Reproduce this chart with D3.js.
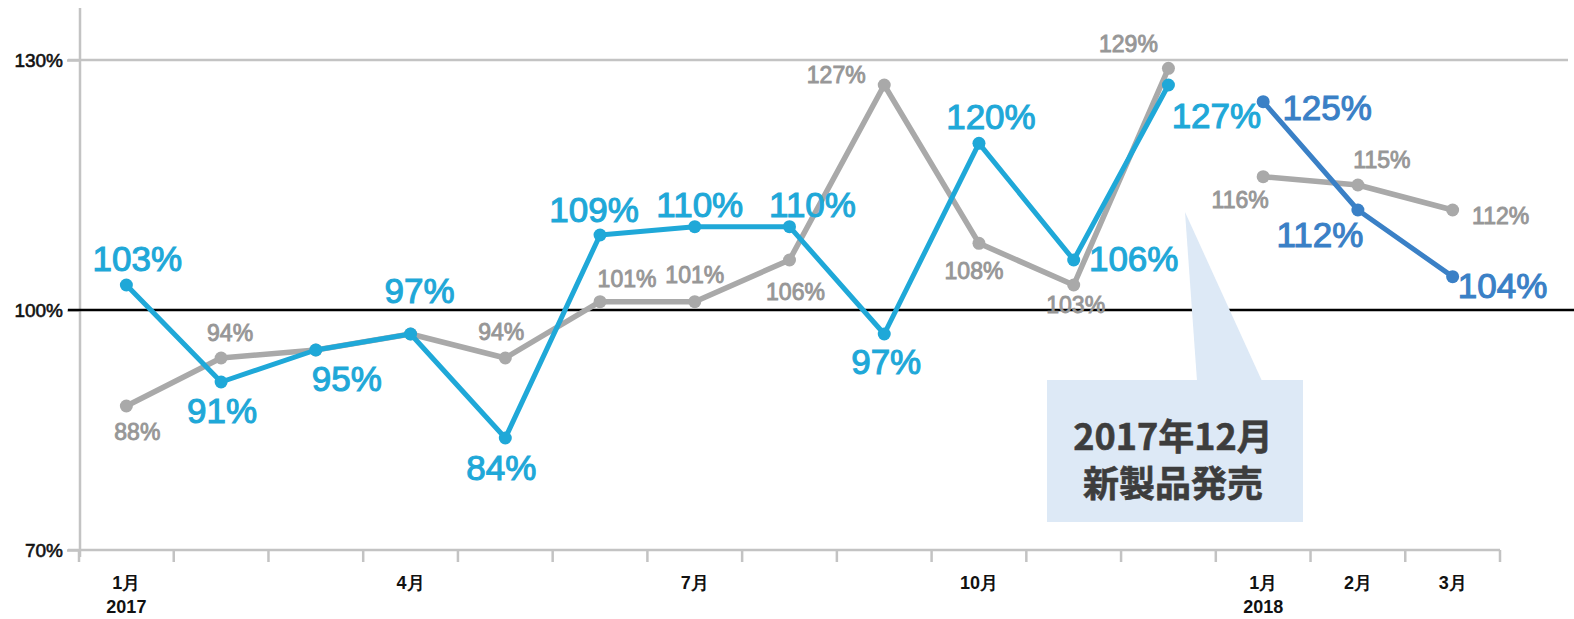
<!DOCTYPE html>
<html>
<head>
<meta charset="utf-8">
<script src="https://cdn.jsdelivr.net/npm/d3@7/dist/d3.min.js"></script>
<style>
  html, body { margin: 0; padding: 0; background: #fff; }
  svg { display: block; }
</style>
</head>
<body>
<svg id="chart" width="1574" height="619"></svg>
<script>
// Month categories: Jan 2017 through Mar 2018
const months = ["2017-01","2017-02","2017-03","2017-04","2017-05","2017-06",
                "2017-07","2017-08","2017-09","2017-10","2017-11","2017-12",
                "2018-01","2018-02","2018-03"];

// Previous-year ratio (grey) and current ratio (blue), in percent
const gray2017 = [88, 94, 95, 97, 94, 101, 101, 106, 127, 108, 103, 129];
const blue2017 = [103, 91, 95, 97, 84, 109, 110, 110, 97, 120, 106, 127];
const gray2018 = [116, 115, 112];
const blue2018 = [125, 112, 104];

// Which grey values carry a printed label
const gray2017Labeled = [true, true, false, false, true, true, true, true, true, true, true, true];

// Axis text
const yTicks = [70, 100, 130];
const monthLabels = {"2017-01": "1月", "2017-04": "4月", "2017-07": "7月", "2017-10": "10月",
                     "2018-01": "1月", "2018-02": "2月", "2018-03": "3月"};
const yearLabels = {"2017-01": "2017", "2018-01": "2018"};
const calloutLines = ["2017年12月", "新製品発売"];

// Label placement relative to each point (dx, dy)
const offGray2017 = [[11,26],[9,-25],null,null,[-4,-26],[27,-23],[0,-27],[6,32],[-48,-10],[-5,28],[2,20],[-40,-24]];
const offBlue2017 = [[11,-27],[1,28],[31,28],[9,-44],[-4,29],[-6,-26],[5,-22],[23,-22],[2,27],[12,-27],[60,-2],[48,30]];
const offGray2018 = [[-23,23],[24,-25],[48,6]];
const offBlue2018 = [[64,6],[-38,24],[50,9]];

const svg = d3.select("#chart");

const x = d3.scaleBand().domain(months).range([79, 1500]).paddingInner(0).paddingOuter(0);
const y = d3.scaleLinear().domain([70, 100, 130]).range([550, 310, 60]);
const cx = m => x(m) + x.bandwidth() / 2;

const C = {
  gray: "#a9a9a9", grayText: "#979797",
  blue: "#1fa8d8", blue2: "#3a80c6",
  axis: "#c3c3c3"
};
const FONT = "Liberation Sans, Arial, Helvetica, sans-serif";

// Gridline at the top value, baseline of the plot and the vertical axis
svg.append("line").attr("x1", 68).attr("x2", 1568).attr("y1", y(130)).attr("y2", y(130))
  .attr("stroke", C.axis).attr("stroke-width", 2.5);
svg.append("line").attr("x1", 68).attr("x2", 1500).attr("y1", y(70)).attr("y2", y(70))
  .attr("stroke", C.axis).attr("stroke-width", 2.5);
svg.append("line").attr("x1", 80).attr("x2", 80).attr("y1", 8).attr("y2", 557)
  .attr("stroke", C.axis).attr("stroke-width", 2.5);

// Y axis ticks and labels
const yAxis = d3.axisLeft(y).tickValues(yTicks).tickFormat(d => d + "%").tickSize(13).tickPadding(4);
const gy = svg.append("g").attr("transform", "translate(80,0)").call(yAxis);
gy.select(".domain").remove();
gy.selectAll(".tick line").attr("stroke", C.axis).attr("stroke-width", 2.5);
gy.selectAll(".tick text").attr("fill", "#111").attr("font-family", FONT)
  .attr("font-size", 19).attr("stroke", "#111").attr("stroke-width", 0.6);

// Reference line at 100%
svg.append("line").attr("x1", 68).attr("x2", 1574).attr("y1", y(100)).attr("y2", y(100))
  .attr("stroke", "#000").attr("stroke-width", 2.5);

// X axis: ticks at band edges
const edges = months.map(m => x(m)).concat([x(months[months.length - 1]) + x.bandwidth()]);
svg.append("g").selectAll("line").data(edges).join("line")
  .attr("x1", d => d).attr("x2", d => d)
  .attr("y1", y(70)).attr("y2", y(70) + 12)
  .attr("stroke", C.axis).attr("stroke-width", 2.5);

const xAxis = d3.axisBottom(x).tickValues(Object.keys(monthLabels))
  .tickFormat(d => monthLabels[d]).tickSize(0).tickPadding(0);
const gx = svg.append("g").attr("transform", `translate(0,${y(70)})`).call(xAxis);
gx.select(".domain").remove();
gx.selectAll(".tick text").attr("fill", "#111").attr("y", 39).attr("dy", null)
  .attr("font-family", FONT).attr("font-size", 18).attr("font-weight", "bold");
gx.selectAll(".tick").filter(d => yearLabels[d]).append("text")
  .attr("y", 63).attr("fill", "#111").attr("text-anchor", "middle")
  .attr("font-family", FONT).attr("font-size", 18).attr("font-weight", "bold")
  .text(d => yearLabels[d]);

// Callout box
const callout = svg.append("g");
callout.append("polygon")
  .attr("points", [[1185, 212], [1197, 381], [1262, 381]].map(p => p.join(",")).join(" "))
  .attr("fill", "#dde9f6");
callout.append("rect").attr("x", 1047).attr("y", 380).attr("width", 256).attr("height", 142)
  .attr("fill", "#dde9f6");
callout.selectAll("text.call").data(calloutLines).join("text")
  .attr("class", "call")
  .attr("x", 1173).attr("y", (d, i) => 434 + i * 47)
  .attr("text-anchor", "middle").attr("dominant-baseline", "central")
  .attr("font-family", "Noto Sans CJK JP, sans-serif").attr("font-weight", "bold")
  .attr("font-size", 36).attr("fill", "#3d3d3d")
  .attr("stroke", "#3d3d3d").attr("stroke-width", 0.6)
  .text(d => d);

// Series drawing helper
function drawSeries(cats, vals, color, width, r) {
  const pts = cats.map((m, i) => ({m, v: vals[i]}));
  const line = d3.line().x(d => cx(d.m)).y(d => y(d.v));
  svg.append("path").datum(pts).attr("d", line)
    .attr("fill", "none").attr("stroke", color).attr("stroke-width", width)
    .attr("stroke-linejoin", "round").attr("stroke-linecap", "round");
  svg.append("g").selectAll("circle").data(pts).join("circle")
    .attr("cx", d => cx(d.m)).attr("cy", d => y(d.v)).attr("r", r).attr("fill", color);
  return pts;
}

function drawLabels(pts, offsets, color, size, stroke) {
  svg.append("g").selectAll("text").data(pts.map((p, i) => ({...p, o: offsets[i]})).filter(d => d.o))
    .join("text")
    .attr("x", d => cx(d.m) + d.o[0]).attr("y", d => y(d.v) + d.o[1])
    .attr("text-anchor", "middle").attr("dominant-baseline", "central")
    .attr("font-family", FONT).attr("font-size", size)
    .attr("fill", color).attr("stroke", color).attr("stroke-width", stroke)
    .text(d => d.v + "%");
}

const m2017 = months.slice(0, 12), m2018 = months.slice(12);
const pg17 = drawSeries(m2017, gray2017, C.gray, 5.5, 6.5);
const pg18 = drawSeries(m2018, gray2018, C.gray, 5.5, 6.5);
const pb17 = drawSeries(m2017, blue2017, C.blue, 5, 6.5);
const pb18 = drawSeries(m2018, blue2018, C.blue2, 5, 6.5);

drawLabels(pg17, offGray2017.map((o, i) => gray2017Labeled[i] ? o : null), C.grayText, 23, 0.9);
drawLabels(pg18, offGray2018, C.grayText, 23, 0.9);
drawLabels(pb17, offBlue2017, C.blue, 35, 1.1);
drawLabels(pb18, offBlue2018, C.blue2, 35, 1.1);
</script>
</body>
</html>
